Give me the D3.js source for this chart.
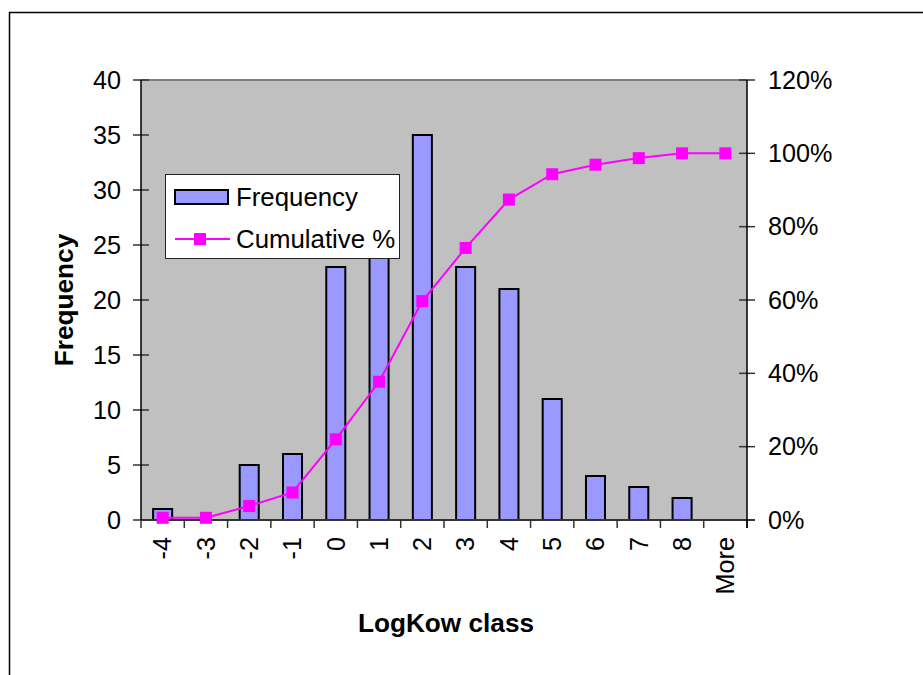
<!DOCTYPE html>
<html>
<head>
<meta charset="utf-8">
<style>
    body { margin: 0; background: white; }
    svg { display: block; }
    text { font-family: "Liberation Sans", Arial, sans-serif; fill: black; }
    .bar { fill: #9999FF; stroke: black; stroke-width: 2; }
    .cumul { fill: none; stroke: #FF00FF; stroke-width: 2; }
    .marker { fill: #FF00FF; }
</style>
</head>
<body>
<div id="chart"></div>
<script src="https://cdn.jsdelivr.net/npm/d3@7"></script>
<script>

//////////////////// data ////////////////////
let classes = ['-4', '-3', '-2', '-1', '0', '1', '2', '3', '4', '5', '6', '7', '8', 'More'];
let frequency = [1, 0, 5, 6, 23, 25, 35, 23, 21, 11, 4, 3, 2, 0];
let cumulative = [0.6, 0.6, 3.8, 7.5, 22.0, 37.7, 59.7, 74.2, 87.4, 94.3, 96.9, 98.7, 100, 100];
let freqTicks = [0, 5, 10, 15, 20, 25, 30, 35, 40];
let pctTicks = [0, 20, 40, 60, 80, 100, 120];

//////////////////// layout ////////////////////
let W = 923, H = 675;
let plot = {left: 141, right: 747, top: 80, bottom: 520};
let tickFont = '25.2px';

let svg = d3.select('#chart').append('svg')
    .attr('width', W)
    .attr('height', H);

// outer chart border (runs off the right and bottom edge)
svg.append('rect')
    .attr('x', 9.5).attr('y', 12.5)
    .attr('width', 1000).attr('height', 1000)
    .attr('fill', 'white')
    .attr('stroke', 'black')
    .attr('stroke-width', 1.5);

//////////////////// scales ////////////////////
let x = d3.scaleBand()
    .domain(classes)
    .range([plot.left, plot.right])
    .padding(0);
let xEdge = d3.scaleLinear()
    .domain([0, classes.length])
    .range([plot.left, plot.right]);
let yL = d3.scaleLinear().domain([0, 40]).range([plot.bottom, plot.top]);
let yR = d3.scaleLinear().domain([0, 120]).range([plot.bottom, plot.top]);

let barW = x.bandwidth() * 0.44;

// plot background
svg.append('rect')
    .attr('x', plot.left).attr('y', plot.top)
    .attr('width', plot.right - plot.left)
    .attr('height', plot.bottom - plot.top)
    .attr('fill', '#C0C0C0');
svg.append('line')
    .attr('x1', plot.left).attr('x2', plot.right)
    .attr('y1', plot.top).attr('y2', plot.top)
    .attr('stroke', '#808080').attr('stroke-width', 2);

//////////////////// bars ////////////////////
svg.append('g').selectAll('rect')
    .data(frequency)
    .join('rect')
    .classed('bar', true)
    .attr('x', (d, i) => x(classes[i]) + x.bandwidth() / 2 - barW / 2)
    .attr('y', d => yL(d))
    .attr('width', barW)
    .attr('height', d => yL(0) - yL(d))
    .style('display', d => d > 0 ? null : 'none');

//////////////////// axes ////////////////////
// left
let axL = svg.append('g')
    .attr('transform', `translate(${plot.left}, 0)`)
    .call(d3.axisLeft(yL).tickValues(freqTicks).tickSize(0).tickPadding(20));
axL.select('.domain').remove();
axL.selectAll('text').style('font-size', tickFont).attr('font-family', null);
svg.append('g').selectAll('line')
    .data(freqTicks)
    .join('line')
    .attr('x1', plot.left - 8).attr('x2', plot.left + 8)
    .attr('y1', d => yL(d)).attr('y2', d => yL(d))
    .attr('stroke', '#333').attr('stroke-width', 1.5);

// right
let axR = svg.append('g')
    .attr('transform', `translate(${plot.right}, 0)`)
    .call(d3.axisRight(yR).tickValues(pctTicks).tickFormat(d => d + '%').tickSize(0).tickPadding(21));
axR.select('.domain').remove();
axR.selectAll('text').style('font-size', tickFont).attr('font-family', null);
svg.append('g').selectAll('line')
    .data(pctTicks)
    .join('line')
    .attr('x1', plot.right - 8).attr('x2', plot.right + 8)
    .attr('y1', d => yR(d)).attr('y2', d => yR(d))
    .attr('stroke', '#333').attr('stroke-width', 1.5);

// bottom labels
let axB = svg.append('g')
    .attr('transform', `translate(0, ${plot.bottom})`)
    .call(d3.axisBottom(x).tickSize(0));
axB.select('.domain').remove();
axB.selectAll('text')
    .style('font-size', tickFont).attr('font-family', null)
    .attr('text-anchor', 'end')
    .attr('dy', '0.35em')
    .attr('y', 0)
    .attr('transform', 'translate(0, 17) rotate(-90)');

// bottom tick marks at the class edges
svg.append('g').selectAll('line')
    .data(d3.range(classes.length + 1))
    .join('line')
    .attr('x1', d => xEdge(d)).attr('x2', d => xEdge(d))
    .attr('y1', plot.bottom).attr('y2', plot.bottom + 8)
    .attr('stroke', '#333').attr('stroke-width', 1.5);

// axis lines
svg.append('line')
    .attr('x1', plot.left).attr('x2', plot.right + 8)
    .attr('y1', plot.bottom).attr('y2', plot.bottom)
    .attr('stroke', '#333').attr('stroke-width', 2);
svg.append('line')
    .attr('x1', plot.left).attr('x2', plot.left)
    .attr('y1', plot.top).attr('y2', plot.bottom)
    .attr('stroke', 'black').attr('stroke-width', 1.5);
svg.append('line')
    .attr('x1', plot.right).attr('x2', plot.right)
    .attr('y1', plot.top).attr('y2', plot.bottom + 8)
    .attr('stroke', 'black').attr('stroke-width', 1.5);

//////////////////// cumulative line ////////////////////
let cx = (d, i) => x(classes[i]) + x.bandwidth() / 2;
let line = d3.line()
    .x(cx)
    .y(d => yR(d));
svg.append('path')
    .datum(cumulative)
    .classed('cumul', true)
    .attr('d', line);
svg.append('g').selectAll('rect')
    .data(cumulative)
    .join('rect')
    .classed('marker', true)
    .attr('x', (d, i) => cx(d, i) - 6)
    .attr('y', d => yR(d) - 6)
    .attr('width', 12)
    .attr('height', 12);

//////////////////// titles ////////////////////
svg.append('text')
    .attr('transform', `translate(73, ${(plot.top + plot.bottom) / 2}) rotate(-90)`)
    .attr('text-anchor', 'middle')
    .style('font-size', '26.2px')
    .style('font-weight', 'bold')
    .text('Frequency');
svg.append('text')
    .attr('x', 446)
    .attr('y', 632)
    .attr('text-anchor', 'middle')
    .style('font-size', '26.2px')
    .style('font-weight', 'bold')
    .text('LogKow class');

//////////////////// legend ////////////////////
let leg = svg.append('g');
leg.append('rect')
    .attr('x', 165.5).attr('y', 174.5)
    .attr('width', 234).attr('height', 84)
    .attr('fill', 'white')
    .attr('stroke', '#222').attr('stroke-width', 1);
leg.append('rect')
    .classed('bar', true)
    .attr('x', 175).attr('y', 190)
    .attr('width', 53).attr('height', 14);
leg.append('text')
    .attr('x', 236).attr('y', 206)
    .style('font-size', '25.8px')
    .text('Frequency');
leg.append('line')
    .attr('x1', 175).attr('x2', 230)
    .attr('y1', 239).attr('y2', 239)
    .attr('stroke', '#FF00FF').attr('stroke-width', 2);
leg.append('rect')
    .classed('marker', true)
    .attr('x', 194).attr('y', 233)
    .attr('width', 12).attr('height', 12);
leg.append('text')
    .attr('x', 236).attr('y', 248)
    .style('font-size', '25.8px')
    .text('Cumulative %');

</script>
</body>
</html>
